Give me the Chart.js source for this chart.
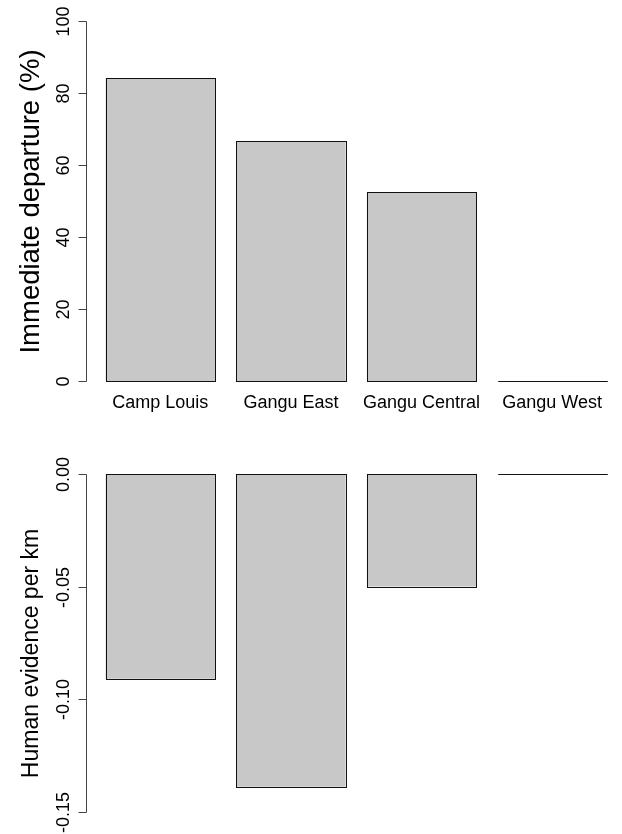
<!DOCTYPE html>
<html>
<head>
<meta charset="utf-8">
<script src="https://cdn.jsdelivr.net/npm/chart.js@4"></script>
<style>
  body { margin: 0; background: #fff; }
  #wrap { position: relative; width: 622px; height: 834px; }
  canvas { position: absolute; left: 0; }
</style>
</head>
<body>
<div id="wrap">
  <canvas id="topChart" width="622" height="420" style="top:0"></canvas>
  <canvas id="bottomChart" width="622" height="417" style="top:417px"></canvas>
</div>
<script>
// Data
const sites = ['Camp Louis', 'Gangu East', 'Gangu Central', 'Gangu West'];
const departurePct = [84.2, 66.7, 52.4, 0];
const humanEvidence = [-0.091, -0.139, -0.050, 0];
const departureTicks = [0, 20, 40, 60, 80, 100];
const departureTickLabels = ['0', '20', '40', '60', '80', '100'];
const evidenceTicks = [0, -0.05, -0.10, -0.15];
const evidenceTickLabels = ['0.00', '-0.05', '-0.10', '-0.15'];

const FONT = '"Liberation Sans", Arial, Helvetica, sans-serif';

// R-like axis / bar outline drawing
const rStyle = {
    id: 'rStyle',
    afterDatasetsDraw(chart, args, opts) {
        const ctx = chart.ctx;
        const meta = chart.getDatasetMeta(0);
        ctx.save();

        // bar outlines (also draws zero-height bars as a line)
        ctx.strokeStyle = '#111';
        ctx.lineWidth = 1;
        meta.data.forEach(bar => {
            const p = bar.getProps(['x', 'y', 'base', 'width'], true);
            const l = Math.round(p.x - p.width / 2) + 0.5;
            const r = Math.round(p.x + p.width / 2) + 0.5;
            const t = Math.round(Math.min(p.y, p.base)) + 0.5;
            const b = Math.round(Math.max(p.y, p.base)) + 0.5;
            ctx.strokeRect(l, t, r - l, b - t);
        });

        // y axis
        const ys = chart.scales.y;
        const ax = opts.axisX + 0.5;
        const pix = opts.ticks.map(v => Math.round(ys.getPixelForValue(v)) + 0.5);
        ctx.strokeStyle = '#444';
        ctx.beginPath();
        ctx.moveTo(ax, Math.min(...pix));
        ctx.lineTo(ax, Math.max(...pix));
        pix.forEach(py => {
            ctx.moveTo(ax, py);
            ctx.lineTo(ax - 8, py);
        });
        ctx.stroke();

        ctx.fillStyle = '#000';
        ctx.textAlign = 'center';
        ctx.textBaseline = 'middle';
        ctx.font = '18px ' + FONT;
        pix.forEach((py, i) => {
            ctx.save();
            ctx.translate(opts.labelX, py);
            ctx.rotate(-Math.PI / 2);
            ctx.fillText(opts.tickLabels[i], 0, 0);
            ctx.restore();
        });

        // axis title
        const mid = (Math.min(...pix) + Math.max(...pix)) / 2 + opts.titleShift;
        ctx.save();
        ctx.translate(opts.titleX, mid);
        ctx.rotate(-Math.PI / 2);
        ctx.font = opts.titleSize + 'px ' + FONT;
        ctx.fillText(opts.title, 0, 0);
        ctx.restore();

        // category labels
        if (opts.showX) {
            ctx.font = '18px ' + FONT;
            meta.data.forEach((bar, i) => {
                ctx.fillText(chart.data.labels[i], bar.x, opts.xLabelY);
            });
        }
        ctx.restore();
    }
};

function makeChart(id, values, yMin, yMax, padding, axisOpts) {
    return new Chart(document.getElementById(id).getContext('2d'), {
        type: 'bar',
        data: {
            labels: sites,
            datasets: [{
                data: values,
                backgroundColor: '#c8c8c8',
                borderWidth: 0,
                barPercentage: 0.837,
                categoryPercentage: 1
            }]
        },
        options: {
            responsive: false,
            animation: false,
            layout: { padding: padding },
            plugins: {
                legend: { display: false },
                tooltip: { enabled: false },
                rStyle: axisOpts
            },
            scales: {
                x: { display: false },
                y: { display: false, min: yMin, max: yMax }
            }
        },
        plugins: [rStyle]
    });
}

makeChart('topChart', departurePct, -4, 104,
    { left: 95, right: 4.5, top: 6.6, bottom: 24.6 },
    {
        axisX: 86, labelX: 64, ticks: departureTicks, tickLabels: departureTickLabels,
        title: 'Immediate departure (%)', titleX: 31, titleSize: 27.5, titleShift: 0,
        showX: true, xLabelY: 403
    });

makeChart('bottomChart', humanEvidence, -0.156, 0.006,
    { left: 95, right: 4.5, top: 43.5, bottom: 9 },
    {
        axisX: 86, labelX: 64, ticks: evidenceTicks, tickLabels: evidenceTickLabels,
        title: 'Human evidence per km', titleX: 32, titleSize: 23, titleShift: 10,
        showX: false
    });
</script>
</body>
</html>
